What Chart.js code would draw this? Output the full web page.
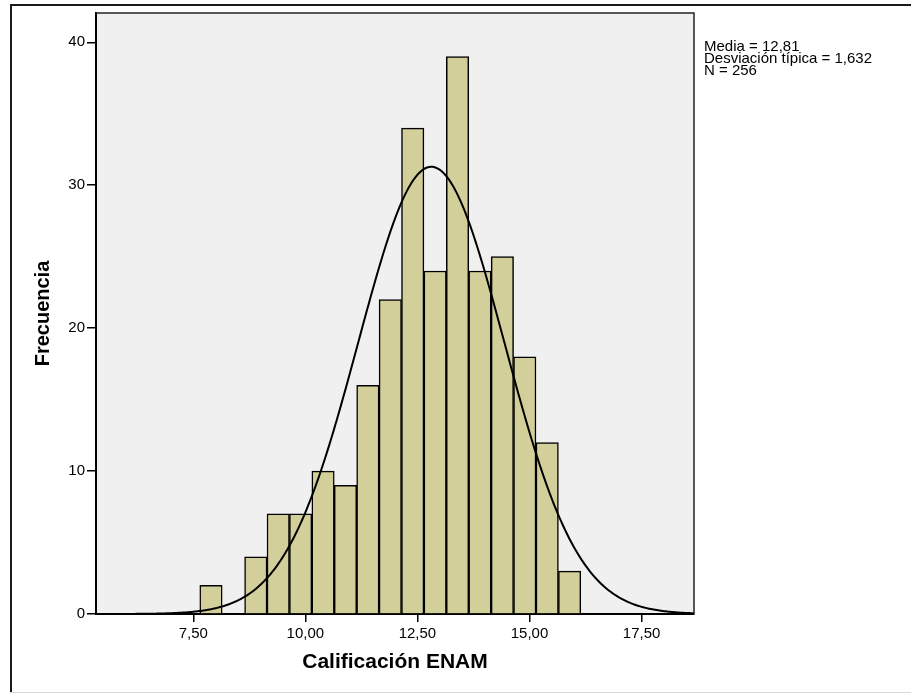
<!DOCTYPE html>
<html>
<head>
<meta charset="utf-8">
<script src="https://cdn.jsdelivr.net/npm/chart.js@4/dist/chart.umd.min.js"></script>
<style>
  html, body { margin: 0; padding: 0; background: #ffffff; }
  #wrap { position: relative; width: 911px; height: 694px; }
</style>
</head>
<body>
<div id="wrap"><canvas id="c"></canvas></div>
<script>
// Histogram of ENAM scores (bins of width 0.5)
const binCenters = [7.895, 8.895, 9.395, 9.895, 10.395, 10.895, 11.395, 11.895,
                    12.395, 12.895, 13.395, 13.895, 14.395, 14.895, 15.395, 15.895];
const frequencies = [2, 4, 7, 7, 10, 9, 16, 22, 34, 24, 39, 24, 25, 18, 12, 3];
const binWidth = 0.5;

// Summary statistics shown beside the plot
const mean = 12.81;
const stdDev = 1.632;
const count = 256;
const statLines = ['Media = 12,81', 'Desviación típica = 1,632', 'N = 256'];

// Axis ticks
const xTicks = [7.5, 10, 12.5, 15, 17.5];
const yTicks = [0, 10, 20, 30, 40];
const xMin = 5.33, xMax = 18.67;
const yMax = 42.05;

// Fitted normal curve, scaled to the histogram counts
const curve = [];
for (let i = 0; i <= 400; i++) {
  const x = xMin + (xMax - xMin) * i / 400;
  const z = (x - mean) / stdDev;
  const y = count * binWidth * Math.exp(-0.5 * z * z) / (stdDev * Math.sqrt(2 * Math.PI));
  curve.push({ x, y });
}

const FONT = "'Liberation Sans', Arial, sans-serif";

const framePlugin = {
  id: 'frame',
  beforeDraw(chart) {
    const { ctx, chartArea: a } = chart;
    ctx.save();
    ctx.fillStyle = '#f0f0f0';
    ctx.fillRect(a.left, a.top, a.right - a.left, a.bottom - a.top);
    // outer frame
    ctx.strokeStyle = '#1a1a1a';
    ctx.lineWidth = 2;
    ctx.beginPath();
    ctx.moveTo(11, 693);
    ctx.lineTo(11, 5);
    ctx.lineTo(911, 5);
    ctx.stroke();
    ctx.strokeStyle = '#d8d8d8';
    ctx.lineWidth = 1;
    ctx.beginPath();
    ctx.moveTo(10, 692.5);
    ctx.lineTo(911, 692.5);
    ctx.stroke();
    ctx.restore();
  },
  afterDraw(chart) {
    const { ctx, chartArea: a } = chart;
    ctx.save();
    ctx.strokeStyle = '#222222';
    ctx.lineWidth = 1.5;
    ctx.beginPath();
    ctx.moveTo(a.left, a.top);
    ctx.lineTo(a.right, a.top);
    ctx.lineTo(a.right, a.bottom);
    ctx.stroke();
    // statistics text
    ctx.fillStyle = '#000000';
    ctx.font = '15px ' + FONT;
    ctx.textBaseline = 'alphabetic';
    ctx.textAlign = 'left';
    statLines.forEach((t, i) => ctx.fillText(t, a.right + 10, 51 + i * 12));
    ctx.restore();
  }
};

new Chart(document.getElementById('c'), {
  data: {
    datasets: [
      {
        type: 'line',
        data: curve,
        borderColor: '#000000',
        borderWidth: 2,
        pointRadius: 0,
        tension: 0,
        order: 0
      },
      {
        type: 'bar',
        data: binCenters.map((x, i) => ({ x, y: frequencies[i] })),
        backgroundColor: '#d3cf9a',
        borderColor: '#000000',
        borderWidth: 1.5,
        borderSkipped: 'start',
        barPercentage: 1,
        categoryPercentage: 1,
        grouped: false,
        order: 1
      }
    ]
  },
  options: {
    responsive: true,
    maintainAspectRatio: false,
    animation: false,
    devicePixelRatio: 1,
    layout: { padding: { left: 0, top: 13, right: 217, bottom: 0 } },
    plugins: { legend: { display: false }, tooltip: { enabled: false } },
    scales: {
      x: {
        type: 'linear',
        offset: false,
        min: xMin,
        max: xMax,
        afterBuildTicks: s => { s.ticks = xTicks.map(v => ({ value: v })); },
        afterFit: s => { s.height = 80; },
        border: { display: true, color: '#000000', width: 2 },
        grid: { offset: false, drawOnChartArea: false, drawTicks: true, tickLength: 8, color: '#000000', lineWidth: 1.5 },
        ticks: {
          autoSkip: false,
          maxRotation: 0,
          padding: 3,
          color: '#000000',
          font: { family: FONT, size: 15 },
          callback: v => v.toFixed(2).replace('.', ',')
        },
        title: {
          display: true,
          text: 'Calificación ENAM',
          color: '#000000',
          font: { family: FONT, size: 21, weight: 'bold' },
          padding: { top: 0, bottom: 19 }
        }
      },
      y: {
        type: 'linear',
        min: 0,
        max: yMax,
        afterBuildTicks: s => { s.ticks = yTicks.map(v => ({ value: v })); },
        afterFit: s => { s.width = 96; },
        border: { display: true, color: '#000000', width: 2 },
        grid: { drawOnChartArea: false, drawTicks: true, tickLength: 9, color: '#000000', lineWidth: 1.5 },
        ticks: {
          padding: 2,
          color: '#000000',
          font: { family: FONT, size: 15 },
          callback: v => String(v)
        },
        title: {
          display: true,
          text: 'Frecuencia',
          color: '#000000',
          font: { family: FONT, size: 20, weight: 'bold' },
          padding: { top: 31, bottom: 0 }
        }
      }
    }
  },
  plugins: [framePlugin]
});
</script>
</body>
</html>
